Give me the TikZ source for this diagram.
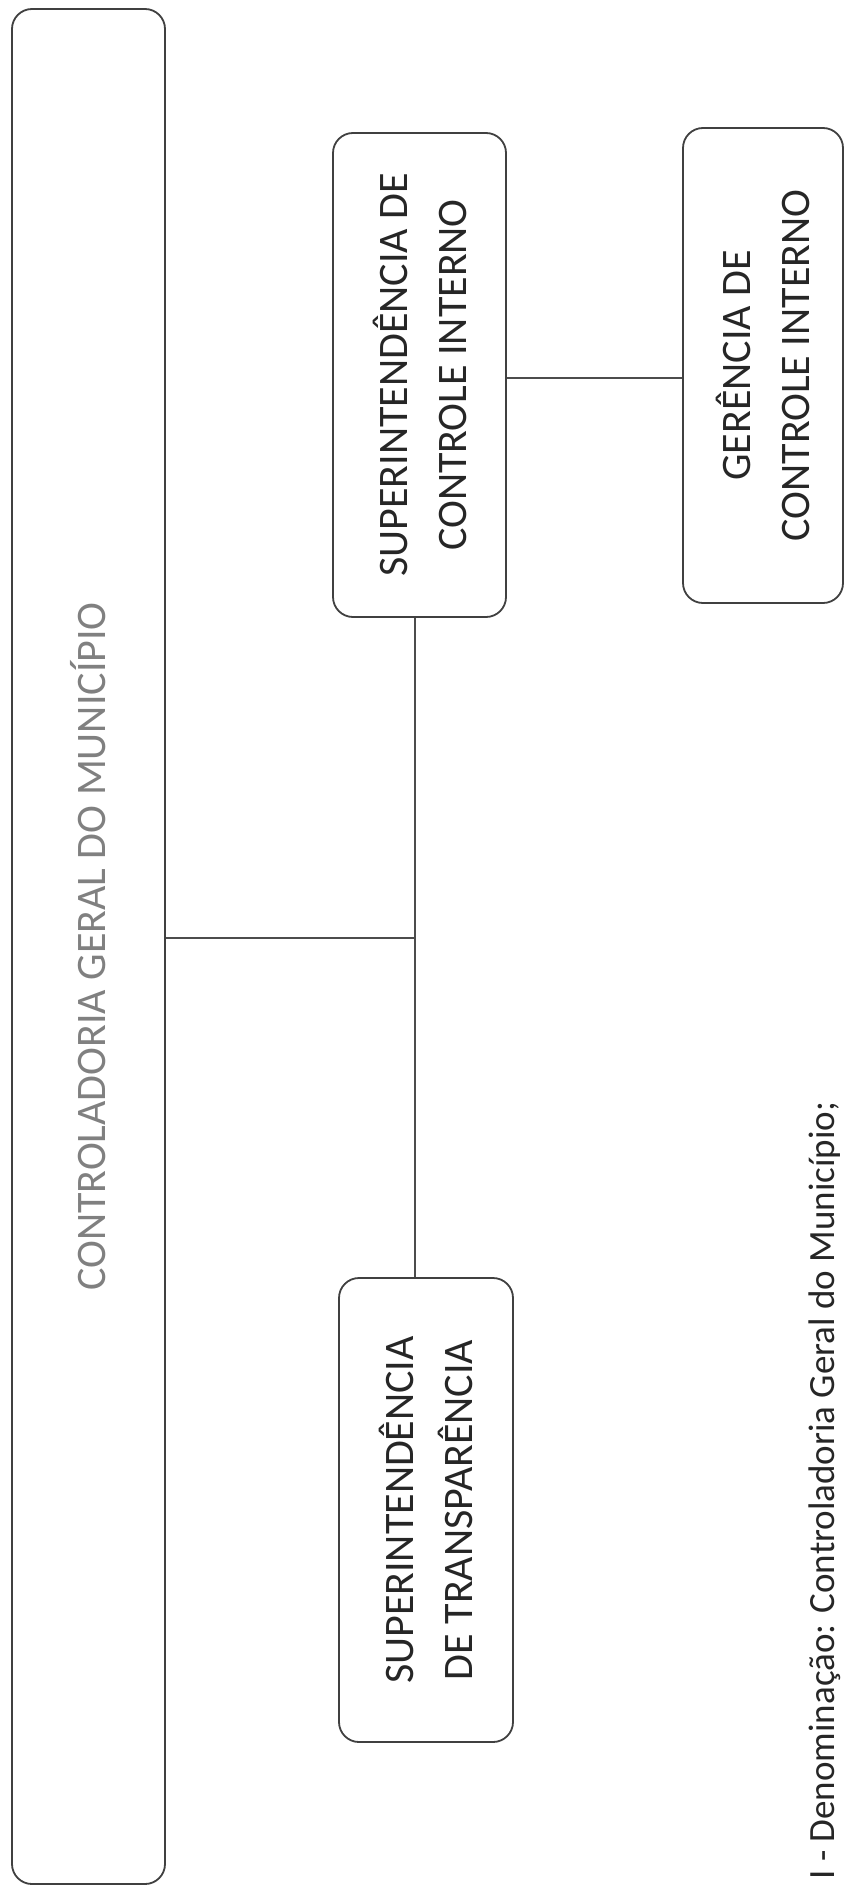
\documentclass[tikz,border=0pt]{standalone}
\usepackage{fontspec}
\setmainfont{Carlito}
\begin{document}
\begin{tikzpicture}[x=0.5pt,y=-0.5pt,
  box/.style={draw=black!75, line width=0.9pt, rounded corners=10pt, fill=white, inner sep=0pt},
  boxtext/.style={rotate=90, align=center, inner sep=0pt, text=black!85,
    font=\fontsize{21}{29.5}\selectfont},
  maintext/.style={rotate=90, inner sep=0pt, text=black!50,
    font=\fontsize{21}{25}\selectfont},
  foottext/.style={rotate=90, inner sep=0pt, text=black!85, anchor=base west,
    font=\fontsize{18.5}{22}\selectfont},
  link/.style={draw=black!70, line width=0.75pt}]
\useasboundingbox[fill=white] (0,0) rectangle (846,1889);

% boxes
\node[box, minimum width=76.5pt, minimum height=937.5pt] (main) at (88.5,946.5) {};
\node[box, minimum width=86.5pt, minimum height=242pt] (sci) at (419.5,375) {};
\node[box, minimum width=80pt, minimum height=237.5pt] (gci) at (763,365.5) {};
\node[box, minimum width=87pt, minimum height=232pt] (sdt) at (426,1510) {};

% texts
\node[maintext] (maint) at (main) {CONTROLADORIA GERAL DO MUNICÍPIO};
\node[boxtext] (scit) at (sci) {SUPERINTENDÊNCIA DE\\CONTROLE INTERNO};
\node[boxtext] (gcit) at (gci) {GERÊNCIA DE\\CONTROLE INTERNO};
\node[boxtext] (sdtt) at (sdt) {SUPERINTENDÊNCIA\\DE TRANSPARÊNCIA};
\node[foottext] (foot) at (834,1880) {I - Denominação: Controladoria Geral do Município;};

% connectors
\coordinate (j) at (415,938);
\draw[link] (main.east |- j) -- (j);
\draw[link] (sci.south -| j) -- (sdt.north -| j);
\draw[link] (sci.east |- 0,378) -- (gci.west |- 0,378);
\end{tikzpicture}
\end{document}
